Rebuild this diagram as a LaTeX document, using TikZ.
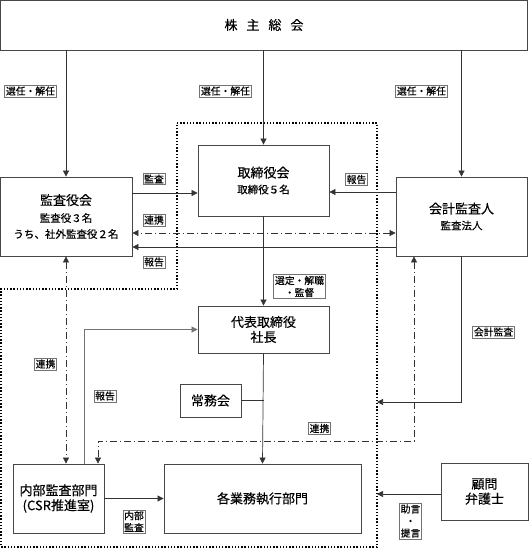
\documentclass[tikz,border=0pt]{standalone}
\usepackage{fontspec}
\setmainfont{Noto Sans CJK JP}[FakeBold=0.35]
\usetikzlibrary{arrows.meta}
\newcommand\subf{\fontsize{10.5}{13}\selectfont}
\begin{document}
\begin{tikzpicture}[x=1pt,y=-1pt,
  box/.style={draw=black!72, line width=0.8pt, inner sep=0pt, align=center, font=\fontsize{13}{16}\selectfont},
  lbl/.style={draw=black!55, line width=0.6pt, fill=white, inner sep=1.3pt, align=center, font=\fontsize{9.8}{12}\selectfont},
  conn/.style={draw=black!80, line width=0.7pt},
  arr/.style={conn, -{Triangle[length=6pt,width=6pt]}},
  darr/.style={conn, {Triangle[length=6pt,width=6pt]}-{Triangle[length=6pt,width=6pt]}},
  dashdot/.style={dash pattern=on 7pt off 3pt on 1pt off 3pt},
  area/.style={line width=1.4pt, dash pattern=on 1.4pt off 1.8pt}
]
\useasboundingbox (0,0) rectangle (529,550);
% dotted area
\draw[area] (177,123) -- (377,123) -- (377,547) -- (1,547) -- (1,289) -- (177,289) -- cycle;
% boxes
\node[box, minimum width=527pt, minimum height=50pt] (top) at (264,25) {株\hspace{9pt}主\hspace{9pt}総\hspace{9pt}会};
\node[box, minimum width=132pt, minimum height=79pt] (kansa) at (66,216.5) {監査役会\\[1pt]{\subf 監査役３名}\\{\subf うち、社外監査役２名}};
\node[box, minimum width=131pt, minimum height=71pt] (tori) at (263.5,180.5) {取締役会\\{\subf 取締役５名}};
\node[box, minimum width=131pt, minimum height=79pt] (kaikei) at (461.5,216.5) {会計監査人\\{\subf 監査法人}};
\node[box, minimum width=131pt, minimum height=47pt] (daihyo) at (263.5,329.5) {代表取締役\\[-1pt]社長};
\node[box, minimum width=61pt, minimum height=33pt] (jomu) at (210.5,400.5) {常務会};
\node[box, minimum width=197pt, minimum height=69pt] (kaku) at (262.5,498.5) {各業務執行部門};
\node[box, minimum width=91pt, minimum height=69pt] (naibu) at (58.5,498.5) {内部監査部門\\[-1pt](CSR推進室)};
\node[box, minimum width=87pt, minimum height=57pt] (komon) at (484.5,491.5) {顧問\\[-1pt]弁護士};
% helper coordinates
\coordinate (yA) at (0,193);
\coordinate (yB) at (0,192);
\coordinate (yC) at (0,233);
\coordinate (yD) at (0,247);
\coordinate (xF) at (84,0);
\coordinate (xH) at (414,0);
\coordinate (yH) at (0,441);
\coordinate (xI) at (98,0);
\coordinate (areaR) at (377,402);
\coordinate (areaR2) at (377,494);
% connectors
\draw[arr] (top.south -| kansa.north) -- (kansa.north);
\draw[arr] (top.south -| tori.north) -- (tori.north);
\draw[arr] (top.south -| kaikei.north) -- (kaikei.north);
\draw[arr] (kansa.east |- yA) -- (tori.west |- yA);
\draw[arr] (kaikei.west |- yB) -- (tori.east |- yB);
\draw[darr, dashdot] (kaikei.west |- yC) -- (kansa.east |- yC);
\draw[arr] (kaikei.west |- yD) -- (kansa.east |- yD);
\draw[arr] (tori.south) -- (daihyo.north);
\draw[arr] (daihyo.south) -- (kaku.north);
\draw[conn] (jomu.east) -- (jomu.east -| daihyo.south);
\draw[arr] (naibu.east) -- (naibu.east -| kaku.west);
\draw[arr, draw=black!55] (naibu.north -| xF) |- (daihyo.west);
\draw[darr, dashdot] (kansa.south) -- (kansa.south |- naibu.north);
\draw[darr, dashdot] (kaikei.south -| xH) -- (xH |- yH) -- (xI |- yH) -- (naibu.north -| xI);
\draw[arr] (kaikei.south) |- (areaR);
\draw[arr] (komon.west |- areaR2) -- (areaR2);
% labels
\node[lbl] (l1) at (30.5,91) {選任・解任};
\node[lbl] (l2) at (225.5,91) {選任・解任};
\node[lbl] (l3) at (421.5,91) {選任・解任};
\node[lbl] (l4) at (154,179) {監査};
\node[lbl] (l5) at (356.5,179.5) {報告};
\node[lbl] (l6) at (154,220) {連携};
\node[lbl] (l7) at (154,262) {報告};
\node[lbl] (l8) at (299.5,286.5) {選定・解職\\・監督};
\node[lbl] (l9) at (45.5,364) {連携};
\node[lbl] (l10) at (105,396) {報告};
\node[lbl] (l11) at (319.5,428.5) {連携};
\node[lbl] (l12) at (493.5,332) {会計監査};
\node[lbl] (l13) at (134,521.5) {内部\\監査};
\node[lbl] (l14) at (410.5,521) {助言\\・\\提言};
\end{tikzpicture}
\end{document}
